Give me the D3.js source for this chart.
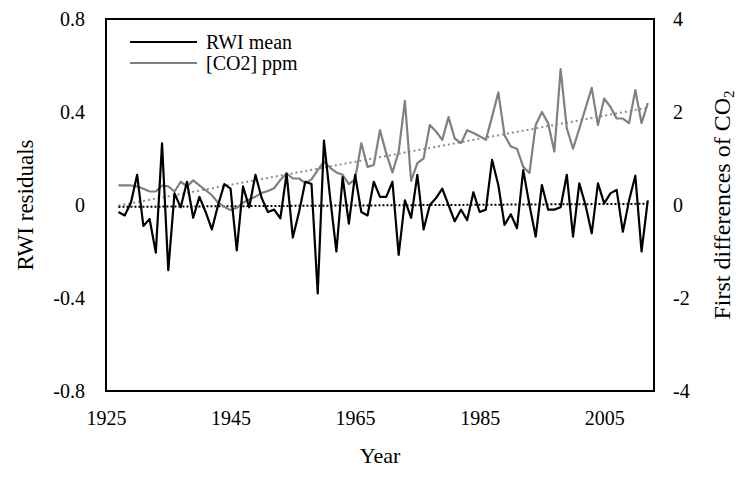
<!DOCTYPE html>
<html>
<head>
<meta charset="utf-8">
<script src="https://cdn.jsdelivr.net/npm/d3@7"></script>
<style>
  body { margin: 0; background: #fff; }
  svg text { font-family: "Liberation Serif", "Times New Roman", serif; fill: #000; }
</style>
</head>
<body>
<div id="chart"></div>
<script>
// data
var years = [1927, 1928, 1929, 1930, 1931, 1932, 1933, 1934, 1935, 1936,
    1937, 1938, 1939, 1940, 1941, 1942, 1943, 1944, 1945, 1946,
    1947, 1948, 1949, 1950, 1951, 1952, 1953, 1954, 1955, 1956,
    1957, 1958, 1959, 1960, 1961, 1962, 1963, 1964, 1965, 1966,
    1967, 1968, 1969, 1970, 1971, 1972, 1973, 1974, 1975, 1976,
    1977, 1978, 1979, 1980, 1981, 1982, 1983, 1984, 1985, 1986,
    1987, 1988, 1989, 1990, 1991, 1992, 1993, 1994, 1995, 1996,
    1997, 1998, 1999, 2000, 2001, 2002, 2003, 2004, 2005, 2006,
    2007, 2008, 2009, 2010, 2011, 2012];

var rwiMean = [-0.03, -0.045, 0.01, 0.13, -0.09, -0.06, -0.205, 0.265, -0.28, 0.05,
    -0.01, 0.10, -0.055, 0.035, -0.03, -0.105, 0.0, 0.09, 0.07, -0.195,
    0.08, -0.01, 0.13, 0.03, -0.03, -0.02, -0.057, 0.135, -0.14, -0.03,
    0.10, 0.09, -0.38, 0.277, 0.03, -0.2, 0.12, -0.08, 0.13, -0.03,
    -0.045, 0.10, 0.035, 0.035, 0.10, -0.215, 0.02, -0.055, 0.13, -0.105,
    0.0, 0.03, 0.07, 0.0, -0.07, -0.02, -0.065, 0.055, -0.03, -0.02,
    0.194, 0.086, -0.086, -0.04, -0.10, 0.15, 0.0, -0.136, 0.086, -0.02,
    -0.02, -0.01, 0.13, -0.136, 0.093, 0.0, -0.122, 0.093, 0.007, 0.05,
    0.065, -0.115, 0.02, 0.126, -0.2, 0.02];

var co2Diff = [0.42, 0.42, 0.42, 0.40, 0.35, 0.29, 0.29, 0.42, 0.40, 0.29,
    0.50, 0.40, 0.53, 0.42, 0.32, 0.21, 0.05, -0.04, -0.11, -0.06,
    0.05, 0.12, 0.18, 0.26, 0.30, 0.36, 0.54, 0.68, 0.57, 0.57,
    0.47, 0.55, 0.75, 0.93, 0.80, 0.70, 0.65, 0.45, 0.55, 1.33,
    0.82, 0.86, 1.61, 1.11, 0.70, 1.15, 2.24, 0.52, 0.90, 1.00,
    1.72, 1.58, 1.40, 1.89, 1.43, 1.33, 1.61, 1.55, 1.48, 1.40,
    1.90, 2.42, 1.50, 1.26, 1.21, 0.82, 0.69, 1.72, 2.00, 1.76,
    1.15, 2.92, 1.65, 1.21, 1.64, 2.08, 2.52, 1.72, 2.29, 2.11,
    1.86, 1.86, 1.76, 2.47, 1.76, 2.19];

var xTicks = [1925, 1945, 1965, 1985, 2005];
var leftTicks = [-0.8, -0.4, 0, 0.4, 0.8];
var rightTicks = [-4, -2, 0, 2, 4];
var seriesNames = ["RWI mean", "[CO2] ppm"];

// linear least squares trend, like the spreadsheet trendline
function linearFit(xs, ys) {
    var mx = d3.mean(xs), my = d3.mean(ys);
    var num = 0, den = 0;
    for (var i = 0; i < xs.length; i++) {
        num += (xs[i] - mx) * (ys[i] - my);
        den += (xs[i] - mx) * (xs[i] - mx);
    }
    var b = num / den;
    return function (x) { return my + b * (x - mx); };
}

var W = 736, H = 490;
var margin = { top: 19, right: 82, bottom: 99, left: 106 },
    width = W - margin.left - margin.right,
    height = H - margin.top - margin.bottom;

var svg = d3.select("#chart")
    .append("svg")
    .attr("width", W)
    .attr("height", H);

var g = svg.append("g")
    .attr("transform", "translate(" + margin.left + "," + margin.top + ")");

var x = d3.scaleLinear().domain([1925, 2013]).range([0, width]);
var yL = d3.scaleLinear().domain([-0.8, 0.8]).range([height, 0]);
var yR = d3.scaleLinear().domain([-4, 4]).range([height, 0]);

// axes, labels only (plain hyphen for minus, as in the original)
var fmtL = function (d) { return d === 0 ? "0" : d3.format(".1f")(d).replace("\u2212", "-"); };
var fmtR = function (d) { return String(d); };

function labelsOnly(a) {
    a.select(".domain").remove();
    a.attr("font-family", null).attr("font-size", null);
    a.selectAll("text").style("font-size", "20px");
}

g.append("g")
    .attr("transform", "translate(0," + height + ")")
    .call(d3.axisBottom(x).tickValues(xTicks).tickFormat(d3.format("d")).tickSize(0).tickPadding(20))
    .call(labelsOnly);

g.append("g")
    .call(d3.axisLeft(yL).tickValues(leftTicks).tickFormat(fmtL).tickSize(0).tickPadding(21))
    .call(labelsOnly);

g.append("g")
    .attr("transform", "translate(" + width + ",0)")
    .call(d3.axisRight(yR).tickValues(rightTicks).tickFormat(fmtR).tickSize(0).tickPadding(19))
    .call(labelsOnly);

// trend lines
var fitR = linearFit(years, rwiMean);
var fitC = linearFit(years, co2Diff);
var x0 = years[0], x1 = years[years.length - 1];

g.append("line")
    .attr("x1", x(x0)).attr("x2", x(x1))
    .attr("y1", yR(fitC(x0))).attr("y2", yR(fitC(x1)))
    .attr("stroke", "#8c8c8c")
    .attr("stroke-width", 2)
    .attr("stroke-dasharray", "2,3");

g.append("line")
    .attr("x1", x(x0)).attr("x2", x(x1))
    .attr("y1", yL(fitR(x0))).attr("y2", yL(fitR(x1)))
    .attr("stroke", "#000")
    .attr("stroke-width", 2)
    .attr("stroke-dasharray", "2,2");

// series
g.append("path")
    .datum(years)
    .attr("fill", "none")
    .attr("stroke", "#808080")
    .attr("stroke-width", 2.2)
    .attr("stroke-linejoin", "round")
    .attr("d", d3.line()
        .x(function (d) { return x(d); })
        .y(function (d, i) { return yR(co2Diff[i]); }));

g.append("path")
    .datum(years)
    .attr("fill", "none")
    .attr("stroke", "#000")
    .attr("stroke-width", 2.2)
    .attr("stroke-linejoin", "round")
    .attr("d", d3.line()
        .x(function (d) { return x(d); })
        .y(function (d, i) { return yL(rwiMean[i]); }));

// frame
g.append("rect")
    .attr("width", width)
    .attr("height", height)
    .attr("fill", "none")
    .attr("stroke", "#000")
    .attr("stroke-width", 2);

// legend
var legend = g.append("g").attr("transform", "translate(24,23)");
var legendColors = ["#000", "#808080"];
seriesNames.forEach(function (name, i) {
    legend.append("line")
        .attr("x1", 0).attr("x2", 67)
        .attr("y1", i * 21).attr("y2", i * 21)
        .attr("stroke", legendColors[i])
        .attr("stroke-width", 2.2);
    legend.append("text")
        .attr("x", 76)
        .attr("y", i * 21)
        .attr("dy", "0.33em")
        .style("font-size", "20px")
        .text(name);
});

// axis titles
svg.append("text")
    .attr("transform", "translate(33," + (margin.top + height / 2) + ") rotate(-90)")
    .attr("text-anchor", "middle")
    .style("font-size", "23px")
    .text("RWI residuals");

var rt = svg.append("text")
    .attr("transform", "translate(730," + (margin.top + height / 2) + ") rotate(-90)")
    .attr("text-anchor", "middle")
    .style("font-size", "24px");
rt.append("tspan").text("First differences  of CO");
rt.append("tspan").attr("dy", "0.25em").style("font-size", "15px").text("2");

svg.append("text")
    .attr("x", margin.left + width / 2)
    .attr("y", 463)
    .attr("text-anchor", "middle")
    .style("font-size", "22px")
    .text("Year");
</script>
</body>
</html>
